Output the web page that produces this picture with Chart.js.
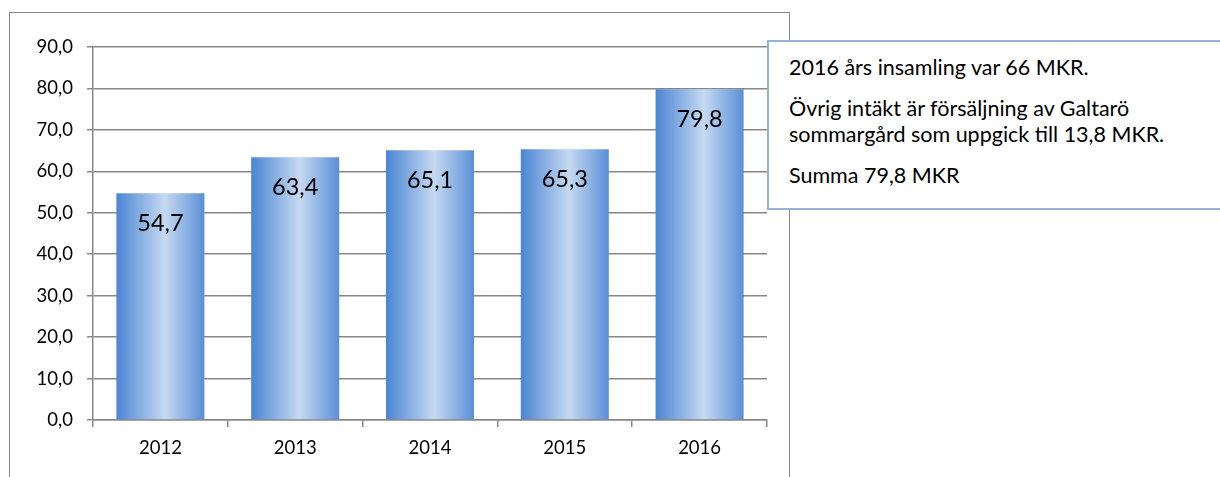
<!DOCTYPE html>
<html>
<head>
<meta charset="utf-8">
<script src="https://cdn.jsdelivr.net/npm/chart.js@4.4.1/dist/chart.umd.min.js"></script>
<style>
  html, body { margin: 0; padding: 0; background: #fff; }
  #wrap { position: relative; width: 1220px; height: 477px; overflow: hidden; }
  #frame {
    position: absolute; left: 9px; top: 12px; width: 781px; height: 480px;
    border: 1.5px solid #888; border-bottom: none; box-sizing: border-box;
  }
  #note {
    position: absolute; left: 767px; top: 40px; width: 480px; height: 170px;
    background: #fff; border: 2px solid #95b3d7; box-sizing: border-box;
    font-family: Lato, sans-serif; font-size: 21.5px; color: #000;
    padding: 12px 0 0 20px;
  }
  #note p { margin: 0 0 15px 0; line-height: 26px; }
  canvas { position: absolute; left: 0; top: 0; }
</style>
</head>
<body>
<div id="wrap">
  <canvas id="c" width="1220" height="477"></canvas>
  <div id="frame"></div>
  <div id="note">
    <p>2016 års insamling var 66 MKR.</p>
    <p>Övrig intäkt är försäljning av Galtarö<br>sommargård som uppgick till 13,8 MKR.</p>
    <p>Summa 79,8 MKR</p>
  </div>
</div>
<script>
var years = ['2012', '2013', '2014', '2015', '2016'];
var amounts = [54.7, 63.4, 65.1, 65.3, 79.8];

function fmt(v) {
  return v.toFixed(1).replace('.', ',');
}

// horizontal gradient for each bar, light in the middle
function barFill(ctx) {
  var chart = ctx.chart;
  var xs = chart.scales.x;
  if (!xs || !chart.chartArea) return '#6a9bdc';
  var cx = xs.getPixelForValue(ctx.dataIndex);
  var w = (xs.width / years.length) * 0.653;
  var g = chart.ctx.createLinearGradient(cx - w / 2, 0, cx + w / 2, 0);
  g.addColorStop(0, '#4a85d3');
  g.addColorStop(0.55, '#c6d9f1');
  g.addColorStop(1, '#5a8fd6');
  return g;
}

var valueLabels = {
  id: 'valueLabels',
  afterDatasetsDraw: function(chart) {
    var c = chart.ctx;
    var meta = chart.getDatasetMeta(0);
    c.save();
    c.font = '23.5px Lato, sans-serif';
    c.fillStyle = '#000';
    c.textAlign = 'center';
    c.textBaseline = 'middle';
    meta.data.forEach(function(el, i) {
      c.fillText(fmt(amounts[i]), el.x, el.y + 30);
    });
    c.restore();
  }
};

new Chart(document.getElementById('c'), {
  type: 'bar',
  data: {
    labels: years,
    datasets: [{
      data: amounts,
      backgroundColor: barFill,
      borderWidth: 0,
      categoryPercentage: 1,
      barPercentage: 0.653
    }]
  },
  options: {
    responsive: false,
    animation: false,
    layout: { padding: { left: 0, top: 47, right: 453, bottom: 0 } },
    plugins: { legend: { display: false }, tooltip: { enabled: false } },
    scales: {
      y: {
        min: 0, max: 90,
        afterFit: function(s) { s.width = 93; },
        ticks: {
          stepSize: 10,
          padding: 14,
          color: '#000',
          font: { family: 'Lato', size: 18.5 },
          callback: function(v) { return fmt(v); }
        },
        grid: { color: '#888', lineWidth: 1.5, tickLength: 6 },
        border: { color: '#888', width: 1.5 }
      },
      x: {
        afterFit: function(s) { s.height = 57; },
        ticks: {
          padding: 10,
          color: '#000',
          font: { family: 'Lato', size: 18.5 }
        },
        grid: { offset: true, drawOnChartArea: false, color: '#888', lineWidth: 1.5, tickLength: 7 },
        border: { color: '#888', width: 1.5 }
      }
    }
  },
  plugins: [valueLabels]
});
</script>
</body>
</html>
